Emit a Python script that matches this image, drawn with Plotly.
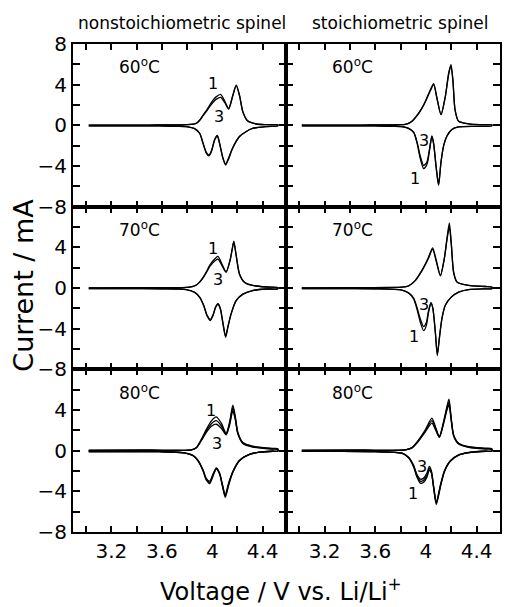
import plotly.graph_objects as go

# ---------------- data ----------------
# 60 C, nonstoichiometric
v60n_ox = [3.02, 3.5, 3.8, 3.85, 3.874, 3.9, 3.927, 3.955, 3.98, 4.005, 4.03, 4.066, 4.098, 4.13, 4.163, 4.19, 4.216, 4.243, 4.28, 4.35, 4.43, 4.52]
i60n_ox_1 = [0.02, 0.03, 0.06, 0.12, 0.2, 0.5, 1.0, 1.5, 2.0, 2.45, 2.8, 3.05, 2.4, 1.67, 2.97, 3.96, 2.97, 1.33, 0.45, 0.13, 0.07, 0.05]
i60n_ox_3 = [0.02, 0.03, 0.06, 0.12, 0.2, 0.5, 0.95, 1.4, 1.85, 2.25, 2.55, 2.75, 2.25, 1.6, 2.9, 3.9, 2.92, 1.3, 0.44, 0.13, 0.07, 0.05]
v60n_red = [4.52, 4.43, 4.32, 4.27, 4.216, 4.16, 4.13, 4.106, 4.085, 4.058, 4.04, 4.019, 3.993, 3.974, 3.953, 3.927, 3.9, 3.86, 3.795, 3.58, 3.3, 3.02]
i60n_red_1 = [-0.05, -0.12, -0.3, -0.6, -1.1, -2.3, -3.3, -3.9, -3.3, -1.8, -1.05, -1.45, -2.6, -3.0, -2.75, -1.8, -0.8, -0.33, -0.12, -0.06, -0.05, -0.05]
i60n_red_3 = [-0.05, -0.12, -0.3, -0.6, -1.1, -2.25, -3.2, -3.8, -3.2, -1.75, -1.0, -1.4, -2.5, -2.9, -2.65, -1.75, -0.78, -0.32, -0.12, -0.06, -0.05, -0.05]

# 60 C, stoichiometric
v60s_ox = [3.02, 3.5, 3.8, 3.837, 3.863, 3.89, 3.915, 3.942, 3.97, 3.995, 4.035, 4.061, 4.087, 4.119, 4.153, 4.18, 4.198, 4.213, 4.23, 4.258, 4.337, 4.43, 4.52]
i60s_ox_1 = [0.02, 0.03, 0.06, 0.1, 0.2, 0.4, 0.75, 1.2, 1.75, 2.35, 3.5, 4.1, 2.7, 1.05, 2.85, 5.15, 5.96, 4.5, 1.55, 0.4, 0.15, 0.07, 0.05]
i60s_ox_3 = [0.02, 0.03, 0.06, 0.1, 0.2, 0.4, 0.72, 1.15, 1.7, 2.3, 3.4, 4.0, 2.65, 1.05, 2.8, 5.05, 5.85, 4.4, 1.5, 0.4, 0.15, 0.07, 0.05]
v60s_red = [4.52, 4.4, 4.258, 4.205, 4.166, 4.14, 4.119, 4.1, 4.082, 4.061, 4.047, 4.03, 4.008, 3.982, 3.956, 3.929, 3.903, 3.863, 3.81, 3.6, 3.3, 3.02]
i60s_red_1 = [-0.05, -0.1, -0.15, -0.4, -1.05, -2.0, -3.65, -5.9, -4.3, -1.85, -1.1, -2.35, -3.85, -4.25, -3.3, -1.7, -0.7, -0.3, -0.12, -0.06, -0.05, -0.05]
i60s_red_3 = [-0.05, -0.1, -0.15, -0.4, -1.05, -2.0, -3.6, -5.8, -4.2, -1.8, -1.05, -2.2, -3.6, -3.95, -3.05, -1.6, -0.68, -0.3, -0.12, -0.06, -0.05, -0.05]

# 70 C, nonstoichiometric
v70n_ox = [3.02, 3.5, 3.82, 3.874, 3.9, 3.927, 3.955, 3.98, 4.019, 4.045, 4.077, 4.11, 4.143, 4.158, 4.171, 4.19, 4.216, 4.256, 4.32, 4.43, 4.52]
i70n_ox_1 = [0.02, 0.03, 0.08, 0.3, 0.6, 1.05, 1.65, 2.26, 2.85, 3.1, 2.36, 1.6, 2.85, 3.83, 4.6, 3.2, 1.38, 0.56, 0.25, 0.1, 0.05]
i70n_ox_3 = [0.02, 0.03, 0.08, 0.3, 0.58, 1.0, 1.55, 2.1, 2.65, 2.85, 2.2, 1.55, 2.8, 3.8, 4.5, 3.15, 1.35, 0.55, 0.25, 0.1, 0.05]
v70n_red = [4.52, 4.43, 4.32, 4.243, 4.19, 4.15, 4.124, 4.106, 4.085, 4.064, 4.045, 4.027, 4.006, 3.985, 3.958, 3.932, 3.9, 3.86, 3.795, 3.6, 3.3, 3.02]
i70n_red_1 = [-0.07, -0.1, -0.25, -0.6, -1.25, -2.55, -3.86, -4.85, -3.54, -2.06, -1.6, -1.9, -2.72, -3.2, -2.72, -1.74, -0.92, -0.43, -0.15, -0.08, -0.07, -0.07]
i70n_red_3 = [-0.07, -0.1, -0.25, -0.6, -1.22, -2.5, -3.8, -4.75, -3.45, -2.0, -1.55, -1.85, -2.62, -3.1, -2.65, -1.7, -0.9, -0.42, -0.15, -0.08, -0.07, -0.07]

# 70 C, stoichiometric
v70s_ox = [3.02, 3.5, 3.81, 3.863, 3.916, 3.968, 4.016, 4.053, 4.082, 4.114, 4.145, 4.166, 4.185, 4.2, 4.219, 4.245, 4.337, 4.47, 4.52]
i70s_ox_1 = [0.02, 0.04, 0.08, 0.2, 0.75, 1.73, 2.9, 3.95, 2.7, 1.23, 2.9, 4.85, 6.4, 4.5, 1.55, 0.6, 0.25, 0.15, 0.1]
i70s_ox_3 = [0.02, 0.04, 0.08, 0.2, 0.72, 1.68, 2.8, 3.8, 2.6, 1.2, 2.85, 4.7, 6.0, 4.3, 1.5, 0.58, 0.25, 0.15, 0.1]
v70s_red = [4.52, 4.47, 4.337, 4.258, 4.2, 4.153, 4.127, 4.106, 4.09, 4.074, 4.055, 4.04, 4.021, 4.003, 3.982, 3.956, 3.929, 3.903, 3.863, 3.81, 3.6, 3.3, 3.02]
i70s_red_1 = [-0.07, -0.08, -0.15, -0.4, -0.9, -1.7, -3.0, -5.0, -6.65, -4.35, -2.06, -1.47, -2.4, -3.7, -4.2, -3.37, -2.06, -1.08, -0.5, -0.2, -0.08, -0.07, -0.07]
i70s_red_3 = [-0.07, -0.08, -0.15, -0.4, -0.9, -1.7, -2.95, -4.9, -6.5, -4.25, -2.0, -1.45, -2.2, -3.4, -3.8, -3.05, -1.9, -1.0, -0.48, -0.2, -0.08, -0.07, -0.07]

# 80 C, nonstoichiometric
v80n_ox = [3.02, 3.5, 3.835, 3.874, 3.914, 3.953, 3.993, 4.032, 4.072, 4.11, 4.137, 4.163, 4.182, 4.203, 4.243, 4.32, 4.48, 4.52]
i80n_ox_1 = [0.02, 0.04, 0.08, 0.3, 1.13, 2.1, 2.93, 3.32, 2.7, 1.72, 2.77, 4.47, 3.42, 1.79, 0.8, 0.45, 0.22, 0.2]
i80n_ox_2 = [0.02, 0.04, 0.08, 0.29, 1.05, 1.95, 2.65, 2.95, 2.45, 1.63, 2.63, 4.2, 3.25, 1.72, 0.75, 0.4, 0.18, 0.15]
i80n_ox_3 = [0.02, 0.04, 0.08, 0.28, 1.0, 1.8, 2.4, 2.6, 2.2, 1.55, 2.5, 3.9, 3.1, 1.65, 0.7, 0.35, 0.15, 0.12]
v80n_red = [4.52, 4.48, 4.375, 4.3, 4.216, 4.163, 4.132, 4.103, 4.08, 4.058, 4.032, 4.006, 3.98, 3.953, 3.927, 3.887, 3.848, 3.769, 3.58, 3.3, 3.02]
i80n_red_1 = [-0.05, -0.06, -0.15, -0.35, -1.0, -2.15, -3.3, -4.6, -3.46, -2.3, -1.82, -2.48, -3.23, -2.9, -1.98, -1.0, -0.5, -0.22, -0.1, -0.08, -0.08]
i80n_red_2 = [-0.05, -0.06, -0.15, -0.34, -0.97, -2.1, -3.2, -4.45, -3.38, -2.25, -1.76, -2.39, -3.12, -2.82, -1.94, -0.97, -0.49, -0.21, -0.1, -0.08, -0.08]
i80n_red_3 = [-0.05, -0.06, -0.15, -0.33, -0.95, -2.05, -3.1, -4.3, -3.3, -2.2, -1.7, -2.3, -3.0, -2.75, -1.9, -0.95, -0.48, -0.2, -0.1, -0.08, -0.08]

# 80 C, stoichiometric
v80s_ox = [3.02, 3.5, 3.837, 3.89, 3.942, 3.995, 4.047, 4.074, 4.106, 4.14, 4.166, 4.182, 4.2, 4.219, 4.258, 4.337, 4.47, 4.52]
i80s_ox_1 = [0.02, 0.04, 0.08, 0.3, 1.05, 2.05, 3.2, 2.4, 1.4, 2.87, 4.35, 5.06, 3.2, 1.55, 0.74, 0.4, 0.25, 0.2]
i80s_ox_2 = [0.02, 0.04, 0.08, 0.29, 1.0, 1.95, 2.95, 2.25, 1.35, 2.78, 4.15, 4.75, 3.05, 1.5, 0.7, 0.36, 0.2, 0.16]
i80s_ox_3 = [0.02, 0.04, 0.08, 0.28, 0.95, 1.85, 2.7, 2.1, 1.3, 2.7, 4.0, 4.5, 2.9, 1.45, 0.65, 0.32, 0.15, 0.12]
v80s_red = [4.52, 4.47, 4.337, 4.258, 4.192, 4.147, 4.118, 4.082, 4.061, 4.043, 4.027, 4.008, 3.982, 3.956, 3.929, 3.903, 3.863, 3.81, 3.6, 3.3, 3.02]
i80s_red_1 = [-0.05, -0.06, -0.2, -0.45, -1.05, -2.05, -3.35, -5.3, -3.7, -2.2, -1.9, -2.6, -3.1, -3.2, -2.6, -1.6, -0.7, -0.25, -0.1, -0.07, -0.07]
i80s_red_2 = [-0.05, -0.06, -0.19, -0.44, -1.02, -2.0, -3.28, -5.15, -3.6, -2.1, -1.72, -2.4, -2.9, -3.0, -2.48, -1.52, -0.68, -0.25, -0.1, -0.07, -0.07]
i80s_red_3 = [-0.05, -0.06, -0.18, -0.42, -1.0, -1.95, -3.2, -5.0, -3.5, -2.0, -1.55, -2.2, -2.7, -2.8, -2.35, -1.45, -0.65, -0.24, -0.1, -0.07, -0.07]

column_titles = ["nonstoichiometric spinel", "stoichiometric spinel"]
temperatures = ["60<sup>o</sup>C", "70<sup>o</sup>C", "80<sup>o</sup>C"]
x_major = [3.2, 3.6, 4.0, 4.4]
x_major_text = ["3.2", "3.6", "4", "4.4"]
x_minor = [3.0, 3.4, 3.8, 4.2]
y_major_top = [8, 4, 0, -4, -8]
y_major_top_text = ["8", "4", "0", "\u22124", "\u22128"]
y_major_low = [4, 0, -4, -8]
y_major_low_text = ["4", "0", "\u22124", "\u22128"]
y_minor = [6, 2, -2, -6]

panels = [
    (0, 0, v60n_ox, [i60n_ox_1, i60n_ox_3], v60n_red, [i60n_red_1, i60n_red_3],
     [("1", 4.005, 4.1), ("3", 4.05, 0.85)]),
    (0, 1, v60s_ox, [i60s_ox_1, i60s_ox_3], v60s_red, [i60s_red_1, i60s_red_3],
     [("3", 3.982, -1.45), ("1", 3.916, -5.2)]),
    (1, 0, v70n_ox, [i70n_ox_1, i70n_ox_3], v70n_red, [i70n_red_1, i70n_red_3],
     [("1", 4.005, 3.9), ("3", 4.045, 0.8)]),
    (1, 1, v70s_ox, [i70s_ox_1, i70s_ox_3], v70s_red, [i70s_red_1, i70s_red_3],
     [("3", 3.982, -1.67), ("1", 3.909, -4.8)]),
    (2, 0, v80n_ox, [i80n_ox_1, i80n_ox_2, i80n_ox_3], v80n_red, [i80n_red_1, i80n_red_2, i80n_red_3],
     [("1", 3.993, 4.0), ("3", 4.037, 0.66)]),
    (2, 1, v80s_ox, [i80s_ox_1, i80s_ox_2, i80s_ox_3], v80s_red, [i80s_red_1, i80s_red_2, i80s_red_3],
     [("3", 3.966, -1.57), ("1", 3.9, -4.25)]),
]

FONT = "DejaVu Sans"
fig = go.Figure()

x_domains = [[0, 214 / 429], [214 / 429, 1]]
y_domains = [[2 / 3, 1], [1 / 3, 2 / 3], [0, 1 / 3]]

annotations = []
for idx, (r, c, vox, iox_list, vred, ired_list, labels) in enumerate(panels):
    n = idx + 1
    xa = "x" if n == 1 else f"x{n}"
    ya = "y" if n == 1 else f"y{n}"
    for iox, ired in zip(iox_list, ired_list):
        fig.add_trace(go.Scatter(
            x=vox + vred, y=iox + ired, mode="lines",
            line=dict(color="black", width=1.3, shape="spline", smoothing=0.7),
            xaxis=xa, yaxis=ya, showlegend=False, hoverinfo="skip"))
    xkey = "xaxis" if n == 1 else f"xaxis{n}"
    ykey = "yaxis" if n == 1 else f"yaxis{n}"
    yv = y_major_top if r == 0 else y_major_low
    yt = y_major_top_text if r == 0 else y_major_low_text
    fig.update_layout({
        xkey: dict(domain=x_domains[c], anchor=ya, range=[2.895, 4.585],
                   tickmode="array", tickvals=x_major, ticktext=x_major_text,
                   showticklabels=(r == 2),
                   ticks="inside", ticklen=6, tickwidth=1.5, tickcolor="black",
                   minor=dict(tickmode="array", tickvals=x_minor, ticks="inside",
                              ticklen=6, tickwidth=1.5, tickcolor="black"),
                   showline=True, linewidth=2, linecolor="black", mirror="ticks",
                   showgrid=False, zeroline=False,
                   tickfont=dict(family=FONT, size=20, color="black")),
        ykey: dict(domain=y_domains[r], anchor=xa, range=[-8, 8],
                   tickmode="array", tickvals=yv, ticktext=yt,
                   showticklabels=(c == 0),
                   ticks="inside", ticklen=7, tickwidth=1.5, tickcolor="black",
                   minor=dict(tickmode="array", tickvals=y_minor, ticks="inside",
                              ticklen=7, tickwidth=1.5, tickcolor="black"),
                   showline=True, linewidth=2, linecolor="black", mirror="ticks",
                   showgrid=False, zeroline=False,
                   tickfont=dict(family=FONT, size=20, color="black")),
    })
    annotations.append(dict(xref=xa, yref=ya, x=3.245, y=5.8, text=temperatures[r],
                            showarrow=False, xanchor="left", yanchor="middle",
                            font=dict(family=FONT, size=17, color="black")))
    for txt, lv, li in labels:
        annotations.append(dict(xref=xa, yref=ya, x=lv, y=li, text=txt,
                                showarrow=False, xanchor="center", yanchor="middle",
                                font=dict(family=FONT, size=16, color="black")))

annotations.append(dict(xref="paper", yref="paper", x=0.255, y=1.043, text=column_titles[0],
                        showarrow=False, xanchor="center", yanchor="middle",
                        font=dict(family=FONT, size=17, color="black")))
annotations.append(dict(xref="paper", yref="paper", x=0.766, y=1.043, text=column_titles[1],
                        showarrow=False, xanchor="center", yanchor="middle",
                        font=dict(family=FONT, size=17, color="black")))
annotations.append(dict(xref="paper", yref="paper", x=-0.118, y=0.506, text="Current / mA",
                        showarrow=False, xanchor="center", yanchor="middle", textangle=-90,
                        font=dict(family=FONT, size=27, color="black")))
annotations.append(dict(xref="paper", yref="paper", x=0.487, y=-0.118,
                        text="Voltage / V vs. Li/Li<sup>+</sup>",
                        showarrow=False, xanchor="center", yanchor="middle",
                        font=dict(family=FONT, size=24, color="black")))

fig.update_layout(
    width=505, height=607,
    margin=dict(l=73, r=3, t=44, b=75),
    paper_bgcolor="white", plot_bgcolor="white",
    annotations=annotations,
    font=dict(family=FONT, color="black"),
)

fig.write_html("out.html")
